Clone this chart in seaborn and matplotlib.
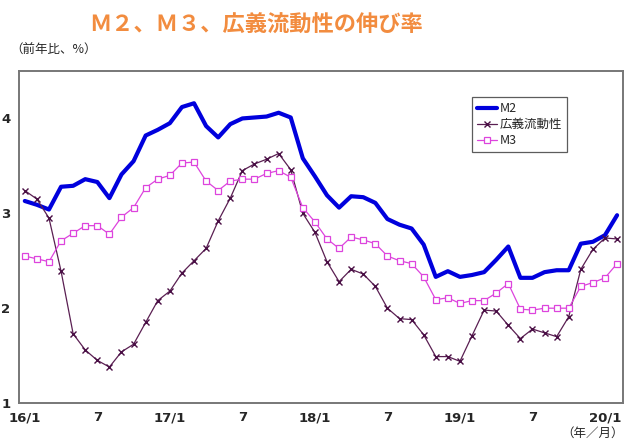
import matplotlib
matplotlib.use('Agg')
import matplotlib.pyplot as plt
import numpy as np
import pandas as pd
import seaborn as sns

# monthly, 2016/1 .. 2020/2 (year-on-year %)
m2 = [3.13, 3.09, 3.04, 3.28, 3.29, 3.36, 3.33, 3.16, 3.41, 3.55,
      3.82, 3.88, 3.95, 4.12, 4.16, 3.92, 3.80, 3.94, 4.00, 4.01,
      4.02, 4.06, 4.01, 3.58, 3.39, 3.19, 3.06, 3.18, 3.17, 3.11,
      2.94, 2.88, 2.84, 2.67, 2.33, 2.39, 2.33, 2.35, 2.38, 2.51,
      2.65, 2.32, 2.32, 2.38, 2.40, 2.40, 2.68, 2.70, 2.77, 2.98]
broad = [3.24, 3.15, 2.95, 2.39, 1.73, 1.56, 1.45, 1.38, 1.54, 1.62,
         1.85, 2.08, 2.18, 2.37, 2.50, 2.63, 2.92, 3.16, 3.45, 3.52,
         3.57, 3.63, 3.46, 3.00, 2.80, 2.49, 2.28, 2.41, 2.36, 2.23,
         2.00, 1.89, 1.88, 1.72, 1.49, 1.49, 1.44, 1.71, 1.98, 1.97,
         1.82, 1.68, 1.78, 1.74, 1.70, 1.91, 2.41, 2.62, 2.74, 2.73]
m3 = [2.55, 2.52, 2.49, 2.71, 2.79, 2.87, 2.87, 2.78, 2.96, 3.06,
      3.27, 3.36, 3.40, 3.53, 3.54, 3.34, 3.24, 3.34, 3.36, 3.36,
      3.42, 3.45, 3.38, 3.06, 2.91, 2.73, 2.63, 2.75, 2.72, 2.68,
      2.55, 2.50, 2.47, 2.33, 2.09, 2.11, 2.05, 2.08, 2.08, 2.16,
      2.26, 1.99, 1.98, 2.00, 2.00, 2.00, 2.23, 2.27, 2.32, 2.47]
tick_labels = ['16/1', '7', '17/1', '7', '18/1', '7', '19/1', '7', '20/1']

df = pd.DataFrame({'month': range(len(m2)), 'M2': m2, '広義流動性': broad, 'M3': m3})

sns.set_style('white')
plt.rcParams['font.family'] = ['Noto Sans CJK JP', 'DejaVu Sans']

fig = plt.figure(figsize=(6.25, 4.41), dpi=100)
ax = fig.add_axes([0.030, 0.086, 0.967, 0.753])

sns.lineplot(x='month', y='M2', data=df, ax=ax, color='#0000DD', linewidth=3, label='M2')
sns.lineplot(x='month', y='広義流動性', data=df, ax=ax, color='#5A1F52', linewidth=0.9,
             marker='x', markersize=4, markeredgewidth=1, markeredgecolor='#4A0F45', label='広義流動性')
sns.lineplot(x='month', y='M3', data=df, ax=ax, color='#DD44DD', linewidth=0.9,
             marker='s', markersize=5, markerfacecolor='white', markeredgecolor='#DD44DD',
             markeredgewidth=0.9, label='M3')

ax.set_xlim(-0.5, len(m2) - 0.5)
ax.set_ylim(1, 4.5)
ax.set_xlabel('')
ax.set_ylabel('')

ax.set_xticks(np.arange(0, len(m2), 6))
ax.set_xticklabels(tick_labels, fontsize=9.5, fontweight='bold', family='DejaVu Sans')
ax.set_xticks(np.arange(0.5, len(m2) - 0.5, 1), minor=True)
ax.tick_params(axis='x', which='major', length=0, pad=6)
ax.tick_params(axis='x', which='minor', direction='in', length=4, color='#555555', width=0.8)

ax.set_yticks([1, 2, 3, 4])
ax.set_yticklabels(['1', '2', '3', '4'], fontsize=9.5, fontweight='bold', family='DejaVu Sans')
ax.tick_params(axis='y', direction='in', length=4, color='#555555', width=0.8, pad=6)

for side, sp in ax.spines.items():
    sp.set_color('#777777')
    sp.set_linewidth(1.4)

leg = ax.legend(loc='upper left', bbox_to_anchor=(0.74, 0.94), fontsize=9,
                frameon=True, fancybox=False, edgecolor='#333333', handlelength=1.6,
                handletextpad=0.2, borderpad=0.4, labelspacing=0.25)
leg.get_frame().set_linewidth(0.9)

fig.text(0.41, 0.943, 'Ｍ２、Ｍ３、広義流動性の伸び率', color='#F28C3F', fontsize=16,
         fontweight='bold', ha='center', va='center')
fig.text(0.016, 0.887, '（前年比、%）', fontsize=9, ha='left', va='center')
fig.text(0.998, 0.018, '（年／月）', fontsize=9, ha='right', va='center')

fig.savefig('out.png', dpi=100)
